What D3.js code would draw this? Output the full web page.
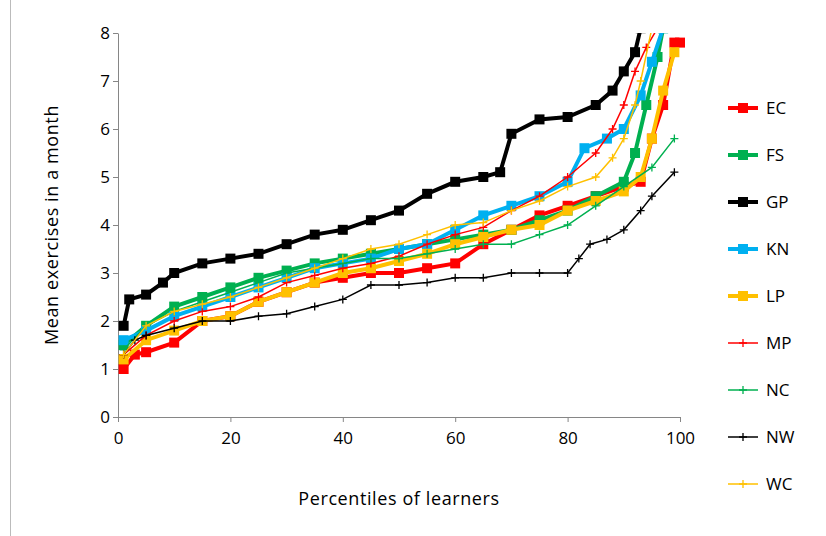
<!DOCTYPE html>
<html><head><meta charset="utf-8">
<script src="https://cdn.jsdelivr.net/npm/d3@7"></script>
<style>body{margin:0;background:#fff}text{font-family:"Open Sans",sans-serif}</style>
</head><body>
<div id="vis"></div>
<script>
// data: [percentile, mean exercises]
const seriesNames = ["EC", "FS", "GP", "KN", "LP", "MP", "NC", "NW", "WC"];
const EC = [[1,1.0],[3,1.3],[5,1.35],[10,1.55],[15,2.0],[20,2.1],[25,2.4],[30,2.6],[35,2.8],[40,2.9],[45,3.0],[50,3.0],[55,3.1],[60,3.2],[65,3.6],[70,3.9],[75,4.2],[80,4.4],[85,4.6],[90,4.8],[93,4.9],[95,5.8],[97,6.5],[99,7.8],[100,7.8]];
const FS = [[1,1.5],[5,1.9],[10,2.3],[15,2.5],[20,2.7],[25,2.9],[30,3.05],[35,3.2],[40,3.3],[45,3.4],[50,3.5],[55,3.6],[60,3.7],[65,3.8],[70,3.9],[75,4.1],[80,4.3],[85,4.6],[90,4.9],[92,5.5],[94,6.5],[96,7.5],[97,8.1]];
const GP = [[1,1.9],[2,2.45],[5,2.55],[8,2.8],[10,3.0],[15,3.2],[20,3.3],[25,3.4],[30,3.6],[35,3.8],[40,3.9],[45,4.1],[50,4.3],[55,4.65],[60,4.9],[65,5.0],[68,5.1],[70,5.9],[75,6.2],[80,6.25],[85,6.5],[88,6.8],[90,7.2],[92,7.6],[93,8.1]];
const KN = [[1,1.6],[5,1.8],[10,2.1],[15,2.3],[20,2.5],[25,2.7],[30,2.9],[35,3.1],[40,3.2],[45,3.3],[50,3.5],[55,3.6],[60,3.9],[65,4.2],[70,4.4],[75,4.6],[80,4.9],[83,5.6],[87,5.8],[90,6.0],[93,6.7],[95,7.4],[97,8.1]];
const LP = [[1,1.2],[5,1.6],[10,1.8],[15,2.0],[20,2.1],[25,2.4],[30,2.6],[35,2.8],[40,3.0],[45,3.1],[50,3.25],[55,3.4],[60,3.6],[65,3.75],[70,3.9],[75,4.0],[80,4.3],[85,4.5],[90,4.7],[93,5.0],[95,5.8],[97,6.8],[99,7.6]];
const MP = [[1,1.3],[5,1.7],[10,2.0],[15,2.2],[20,2.3],[25,2.5],[30,2.8],[35,2.95],[40,3.1],[45,3.2],[50,3.35],[55,3.6],[60,3.8],[65,3.95],[70,4.3],[75,4.6],[80,5.0],[85,5.5],[88,6.0],[90,6.5],[92,7.2],[94,7.7],[96,8.1]];
const NC = [[1,1.4],[5,1.9],[10,2.2],[15,2.4],[20,2.6],[25,2.8],[30,3.0],[35,3.1],[40,3.2],[45,3.3],[50,3.3],[55,3.4],[60,3.5],[65,3.6],[70,3.6],[75,3.8],[80,4.0],[85,4.4],[90,4.8],[95,5.2],[99,5.8]];
const NW = [[1,1.3],[3,1.6],[5,1.7],[10,1.85],[15,2.0],[20,2.0],[25,2.1],[30,2.15],[35,2.3],[40,2.45],[45,2.75],[50,2.75],[55,2.8],[60,2.9],[65,2.9],[70,3.0],[75,3.0],[80,3.0],[82,3.3],[84,3.6],[87,3.7],[90,3.9],[93,4.3],[95,4.6],[99,5.1]];
const WC = [[1,1.3],[5,1.9],[10,2.2],[15,2.35],[20,2.5],[25,2.7],[30,2.9],[35,3.1],[40,3.3],[45,3.5],[50,3.6],[55,3.8],[60,4.0],[65,4.05],[70,4.3],[75,4.5],[80,4.8],[85,5.0],[88,5.4],[90,5.8],[92,6.5],[93,7.0],[95,8.1]];
const seriesData = [EC, FS, GP, KN, LP, MP, NC, NW, WC];
const xTicks = [0, 20, 40, 60, 80, 100];
const yTicks = [0, 1, 2, 3, 4, 5, 6, 7, 8];

const colors = ["#ff0000", "#00b050", "#000000", "#00b0f0", "#ffc000", "#ff0000", "#00b050", "#000000", "#ffc000"];
const thick = [true, true, true, true, true, false, false, false, false];

let margin = {top: 33, left: 118, right: 146, bottom: 119},
  width = 826 - margin.left - margin.right,
  height = 536 - margin.top - margin.bottom;

let svg = d3.select('#vis').append('svg').attr('width', 826).attr('height', 536);
svg.append('rect').attr('x', 10.5).attr('y', -5).attr('width', 830).attr('height', 560)
  .attr('fill', 'none').attr('stroke', '#bbb');

let g = svg.append('g').attr('transform', `translate(${margin.left},${margin.top})`);
let x = d3.scaleLinear().domain([0, 100]).range([0, width]);
let y = d3.scaleLinear().domain([0, 8]).range([height, 0]);

g.append('clipPath').attr('id', 'clip').append('rect')
  .attr('x', -8).attr('y', 0).attr('width', width + 16).attr('height', height + 8);

let xAxis = g.append('g').attr('transform', `translate(0,${height})`)
  .call(d3.axisBottom(x).tickValues(xTicks).tickSize(5).tickSizeOuter(0));
let yAxis = g.append('g').call(d3.axisLeft(y).tickValues(yTicks).tickSize(5).tickSizeOuter(0));
[xAxis, yAxis].forEach(a => {
  a.selectAll('path,line').attr('stroke', '#868686');
  a.selectAll('text').attr('font-size', 17).attr('fill', '#000').attr('font-family', '"Open Sans",sans-serif');
});
xAxis.selectAll('text').attr('dy', '1.1em');

let line = d3.line().x(d => x(d[0])).y(d => y(d[1]));
let plot = g.append('g').attr('clip-path', 'url(#clip)');

function marker(sel, i, px, py) {
  if (thick[i]) {
    sel.append('rect').attr('x', px - 5).attr('y', py - 5).attr('width', 10).attr('height', 10).attr('fill', colors[i]);
  } else {
    sel.append('path').attr('d', `M${px - 4},${py}H${px + 4}M${px},${py - 4}V${py + 4}`)
      .attr('stroke', colors[i]).attr('stroke-width', 1.3);
  }
}

seriesData.forEach((data, i) => {
  plot.append('path').datum(data).attr('d', line).attr('fill', 'none')
    .attr('stroke', colors[i]).attr('stroke-width', thick[i] ? 4 : 1.5);
  let mg = plot.append('g');
  data.forEach(d => marker(mg, i, x(d[0]), y(d[1])));
});

// legend
seriesNames.forEach((n, i) => {
  let ly = 108 + i * 47;
  svg.append('line').attr('x1', 728).attr('x2', 758).attr('y1', ly).attr('y2', ly)
    .attr('stroke', colors[i]).attr('stroke-width', thick[i] ? 4 : 1.5);
  marker(svg, i, 743, ly);
  svg.append('text').attr('x', 766).attr('y', ly + 6).attr('font-size', 17).text(n);
});

svg.append('text').attr('x', x(50) + margin.left).attr('y', 505).attr('text-anchor', 'middle')
  .attr('font-size', 18).attr('letter-spacing', 0.6).text('Percentiles of learners');
svg.append('text').attr('transform', `translate(58,${margin.top + height / 2}) rotate(-90)`)
  .attr('text-anchor', 'middle').attr('font-size', 18).attr('letter-spacing', 0.6).text('Mean exercises in a month');
</script>
</body></html>
